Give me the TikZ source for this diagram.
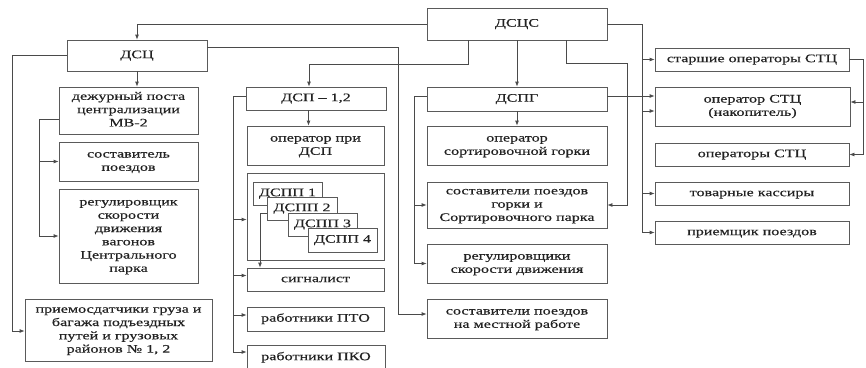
\documentclass[tikz,border=0pt]{standalone}
\usepackage{fontspec}
\usepackage{graphicx}
\setmainfont{Liberation Serif}
\newfontfamily\boxfont{Liberation Serif}[FakeBold=0.35]
\usetikzlibrary{arrows.meta}
\definecolor{boxc}{HTML}{5A5A5A}
\definecolor{linec}{HTML}{4A4A4A}
\definecolor{txtc}{HTML}{222222}
\newcommand{\tx}[1]{\scalebox{1.4}[1]{\begin{tabular}{@{}c@{}}#1\end{tabular}}}
\tikzset{
  bx/.style={draw=boxc, line width=0.8pt, fill=white, inner sep=0pt, text=txtc,
    font=\boxfont\fontsize{11.5}{13.3}\selectfont},
  ln/.style={draw=linec, line width=0.8pt},
  arr/.style={ln, -{Latex[length=5pt,width=4pt]}}
}
\begin{document}
\begin{tikzpicture}[x=1pt,y=-1pt]
\useasboundingbox (0,0) rectangle (866,367);
\clip (0,0) rectangle (866,367);
\fill[white] (0,0) rectangle (866,367);
% boxes
\node[bx, minimum width=180pt, minimum height=32pt] (dscs) at (517,24) {\tx{ДСЦС}};
\node[bx, minimum width=140pt, minimum height=31pt] (dsc) at (137,55.5) {\tx{ДСЦ}};
\node[bx, minimum width=139pt, minimum height=47pt] (dezh) at (128.5,110.5) {\tx{дежурный поста\\централизации\\МВ-2}};
\node[bx, minimum width=139pt, minimum height=39pt] (sost) at (128.5,161.5) {\tx{составитель\\поездов}};
\node[bx, minimum width=139pt, minimum height=94pt] (reg) at (128.5,236) {\tx{регулировщик\\скорости\\движения\\вагонов\\Центрального\\парка}};
\node[bx, minimum width=187pt, minimum height=62pt] (prm) at (118.5,330) {\tx{приемосдатчики груза и\\багажа подъездных\\путей и грузовых\\районов № 1, 2}};
\node[bx, minimum width=140pt, minimum height=23pt] (dsp) at (316,98.5) {\tx{ДСП – 1,2}};
\node[bx, minimum width=137pt, minimum height=39pt] (opdsp) at (315.5,145.5) {\tx{оператор при\\ДСП}};
\node[bx, minimum width=137pt, minimum height=87pt] (cont) at (315.5,216.5) {};
\node[bx, minimum width=69pt, minimum height=23pt] (dspp1) at (287.5,193.5) {\tx{ДСПП 1}};
\node[bx, minimum width=70pt, minimum height=23pt] (dspp2) at (302,208.5) {\tx{ДСПП 2}};
\node[bx, minimum width=69pt, minimum height=23pt] (dspp3) at (322.5,224.5) {\tx{ДСПП 3}};
\node[bx, minimum width=69pt, minimum height=24pt] (dspp4) at (342.5,240) {\tx{ДСПП 4}};
\node[bx, minimum width=137pt, minimum height=23pt] (sign) at (315.5,279.5) {\tx{сигналист}};
\node[bx, minimum width=137pt, minimum height=24pt] (pto) at (315.5,319) {\tx{работники ПТО}};
\node[bx, minimum width=138pt, minimum height=25pt] (pko) at (316,357.5) {\tx{работники ПКО}};
\node[bx, minimum width=180pt, minimum height=24pt] (dspg) at (517,99) {\tx{ДСПГ}};
\node[bx, minimum width=180pt, minimum height=39pt] (opgor) at (517,145.5) {\tx{оператор\\сортировочной горки}};
\node[bx, minimum width=180pt, minimum height=46pt] (sostg) at (517,205) {\tx{составители поездов\\горки и\\Сортировочного парка}};
\node[bx, minimum width=180pt, minimum height=39pt] (regs) at (517,263.5) {\tx{регулировщики\\скорости движения}};
\node[bx, minimum width=180pt, minimum height=39pt] (sostm) at (517,318.5) {\tx{составители поездов\\на местной работе}};
\node[bx, minimum width=194pt, minimum height=23pt] (star) at (752,59.5) {\tx{старшие операторы СТЦ}};
\node[bx, minimum width=195pt, minimum height=39pt] (opstc) at (752.5,106.5) {\tx{оператор СТЦ\\(накопитель)}};
\node[bx, minimum width=194pt, minimum height=23pt] (ops) at (752,154.5) {\tx{операторы СТЦ}};
\node[bx, minimum width=194pt, minimum height=23pt] (tov) at (752,193.5) {\tx{товарные кассиры}};
\node[bx, minimum width=194pt, minimum height=23pt] (prq) at (752,232.5) {\tx{приемщик поездов}};
% spine coordinates
\coordinate (xl) at (39,0);
\coordinate (xd) at (233,0);
\coordinate (xs) at (260,0);
\coordinate (xg) at (414,0);
\coordinate (xr) at (642,0);
\coordinate (xe) at (863,0);
% connectors from DSCS
\draw[arr] (dscs.west) -| (dsc.north);
\draw[arr] ([xshift=-49pt]dscs.south) |- (309,64) -- ([xshift=-7pt]dsp.north);
\draw[arr] (dscs.south) -- (dspg.north);
\draw[arr] ([xshift=49pt]dscs.south) |- (627,63) |- (sostg.east);
\draw[arr] (dscs.east) -| (xr |- prq.west) -- (prq.west);
\draw[arr] (xr |- star.west) -- (star.west);
\draw[arr] ([yshift=-4.5pt]opstc.west -| xr) -- ([yshift=-4.5pt]opstc.west);
\draw[arr] (xr |- tov.west) -- (tov.west);
% right side
\draw[arr] (star.east) -| (xe |- ops.east) -- (ops.east);
\draw[arr] ([yshift=4.5pt]opstc.east -| xe) -- ([yshift=4.5pt]opstc.east);
% DSC
\draw[arr] (dsc.south) -- (dsc.south |- dezh.north);
\draw[arr] ([yshift=8.5pt]dsc.east) -| (398,314) -- ([yshift=4.5pt]sostm.west);
\draw[arr] (dsc.west) -| (12,331) -- ([yshift=-1pt]prm.west);
\draw[arr] ([yshift=-8.5pt]dezh.west) -| (xl |- reg.west) -- (reg.west);
\draw[arr] (xl |- sost.west) -- (sost.west);
% DSP
\draw[arr] ([xshift=-7.5pt]dsp.south) -- ([xshift=-7.5pt]dsp.south |- opdsp.north);
\draw[arr] ([yshift=2.5pt]dsp.west) -| ([yshift=5.5pt]xd |- pko.west) -- ([yshift=5.5pt]pko.west);
\draw[arr] ([yshift=-3pt]xd |- cont.west) -- ([yshift=-3pt]cont.west);
\draw[arr] ([yshift=4pt]xd |- sign.west) -- ([yshift=4pt]sign.west);
\draw[arr] ([yshift=4pt]xd |- pto.west) -- ([yshift=4pt]pto.west);
\draw[arr] ([yshift=-4.5pt]dspp2.west) -| (xs |- sign.north);
% DSPG
\draw[arr] (dspg.south) -- (opgor.north);
\draw[arr] ([yshift=3pt]dspg.east) -- ([yshift=3pt]dspg.east -| opstc.west);
\draw[arr] ([yshift=3pt]dspg.west) -| (xg |- regs.west) -- (regs.west);
\draw[arr] (xg |- sostg.west) -- (sostg.west);
\end{tikzpicture}
\end{document}
